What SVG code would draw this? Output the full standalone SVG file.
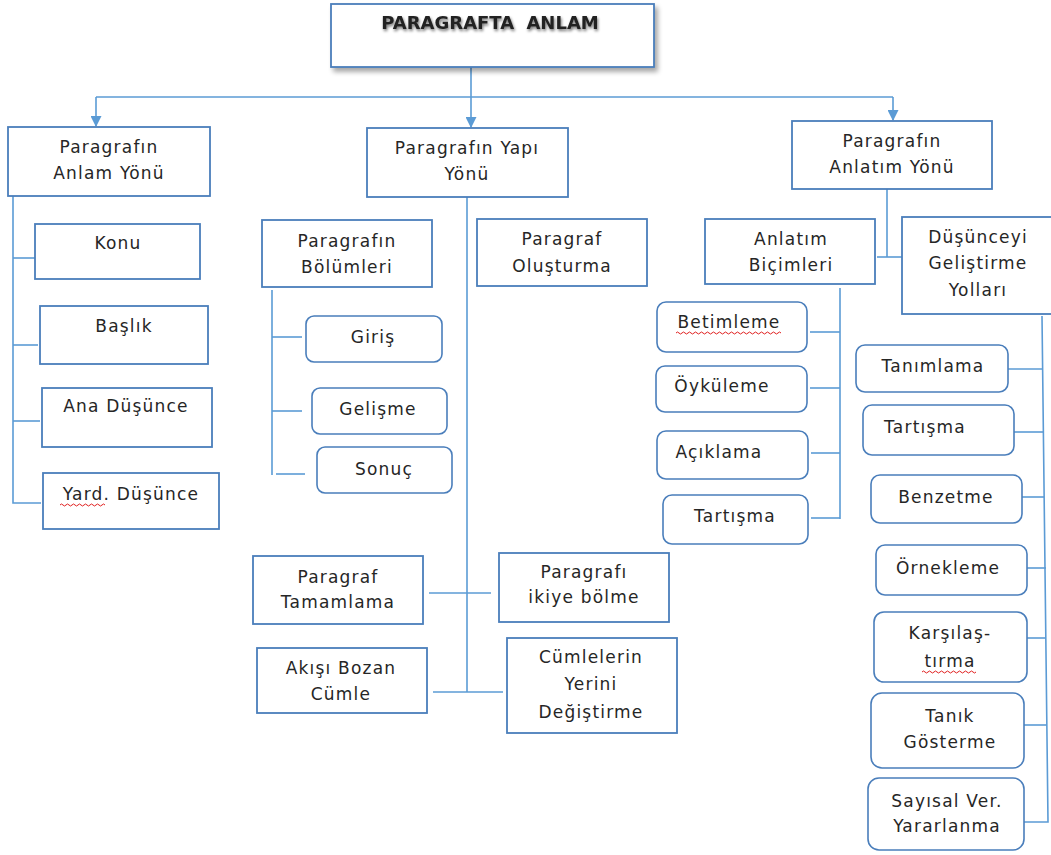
<svg xmlns="http://www.w3.org/2000/svg" width="1051" height="855" viewBox="0 0 1051 855">
  <defs>
    <style>
      .box { fill: #ffffff; stroke: #4a7ebb; stroke-width: 1.8; }
      .rbox { fill: #ffffff; stroke: #4a7ebb; stroke-width: 1.6; }
      .lbl { font-family: "DejaVu Sans", "Liberation Sans", sans-serif; font-size: 17px; letter-spacing: 1.2px; fill: #262626; text-anchor: middle; }
      .ttl { font-family: "DejaVu Sans", "Liberation Sans", sans-serif; font-size: 18px; font-weight: bold; word-spacing: 6px; fill: #222222; text-anchor: middle; }
      .wire { fill: none; stroke: #5b9bd5; stroke-width: 1.6; }
      .squig { fill: none; stroke: #e02020; stroke-width: 1; }
    </style>
    <!-- filled triangle, drawn pointing along the path direction -->
    <marker id="arrow" markerWidth="11" markerHeight="11" refX="10" refY="5.5" orient="auto" markerUnits="userSpaceOnUse" viewBox="0 0 11 11">
      <path d="M0,0 L11,5.5 L0,11 Z" fill="#5b9bd5"/>
    </marker>
    <filter id="boxShadow" x="-10%" y="-20%" width="125%" height="150%">
      <feGaussianBlur in="SourceAlpha" stdDeviation="2.5"/>
      <feOffset dx="3" dy="4" result="b"/>
      <feComponentTransfer><feFuncA type="linear" slope="0.35"/></feComponentTransfer>
      <feMerge><feMergeNode/><feMergeNode in="SourceGraphic"/></feMerge>
    </filter>
    <filter id="textShadow" x="-10%" y="-50%" width="120%" height="200%">
      <feGaussianBlur in="SourceAlpha" stdDeviation="1.8"/>
      <feOffset dx="1" dy="2"/>
      <feComponentTransfer><feFuncA type="linear" slope="0.55"/></feComponentTransfer>
      <feMerge><feMergeNode/><feMergeNode in="SourceGraphic"/></feMerge>
    </filter>
  </defs>

  <rect width="1051" height="855" fill="#ffffff"/>

  <!-- connectors -->
  <g id="connectors" class="wire">
    <!-- root fan-out -->
    <path d="M471,67 V127" marker-end="url(#arrow)"/>
    <path d="M96,97 H893"/>
    <path d="M96,97 V126" marker-end="url(#arrow)"/>
    <path d="M893,97 V120" marker-end="url(#arrow)"/>
    <!-- left column -->
    <path d="M13,196 V503 H41"/>
    <path d="M13,258 H44"/>
    <path d="M13,345 H38"/>
    <path d="M13,421 H40"/>
    <!-- middle column -->
    <path d="M467,197 V692"/>
    <path d="M429,593 H491"/>
    <path d="M433,692 H503"/>
    <path d="M272,290 V475"/>
    <path d="M272,337 H302"/>
    <path d="M272,411 H302"/>
    <path d="M276,474 H305"/>
    <!-- right column -->
    <path d="M887,189 V257"/>
    <path d="M877,257 H906"/>
    <path d="M840,288 V519"/>
    <path d="M810,332 H840"/>
    <path d="M810,388 H840"/>
    <path d="M811,453 H840"/>
    <path d="M811,518 H840"/>
    <path d="M1042,316 L1048,822 H1024"/>
    <path d="M1008,369 H1043"/>
    <path d="M1014,432 H1044"/>
    <path d="M1022,497 H1044"/>
    <path d="M1027,568 H1046"/>
    <path d="M1027,638 H1046"/>
    <path d="M1024,725 H1047"/>
  </g>

  <!-- root -->
  <g id="root">
    <rect class="box" x="331" y="4" width="323" height="63" filter="url(#boxShadow)"/>
    <text class="ttl" x="490" y="29" filter="url(#textShadow)">PARAGRAFTA ANLAM</text>
  </g>

  <!-- left branch -->
  <g id="anlam-yonu">
    <rect class="box" x="8" y="127" width="202" height="69"/>
    <text class="lbl" x="109" y="153">Paragrafın</text>
    <text class="lbl" x="109" y="179">Anlam Yönü</text>
  </g>
  <g id="konu">
    <rect class="box" x="35" y="224" width="165" height="55"/>
    <text class="lbl" x="118" y="249">Konu</text>
  </g>
  <g id="baslik">
    <rect class="box" x="40" y="306" width="168" height="58"/>
    <text class="lbl" x="124" y="332">Başlık</text>
  </g>
  <g id="ana-dusunce">
    <rect class="box" x="42" y="388" width="170" height="59"/>
    <text class="lbl" x="126" y="412">Ana Düşünce</text>
  </g>
  <g id="yard-dusunce">
    <rect class="box" x="43" y="473" width="176" height="56"/>
    <text class="lbl" x="131" y="500">Yard. Düşünce</text>
    <path class="squig" d="M60,505 q1.5,-2 3,0 t3,0 t3,0 t3,0 t3,0 t3,0 t3,0 t3,0 t3,0 t3,0 t3,0 t3,0 t3,0 t3,0 t3,0"/>
  </g>

  <!-- middle branch -->
  <g id="yapi-yonu">
    <rect class="box" x="367" y="128" width="201" height="69"/>
    <text class="lbl" x="467" y="154">Paragrafın Yapı</text>
    <text class="lbl" x="467" y="180">Yönü</text>
  </g>
  <g id="bolumler">
    <rect class="box" x="262" y="220" width="170" height="67"/>
    <text class="lbl" x="347" y="247">Paragrafın</text>
    <text class="lbl" x="347" y="273">Bölümleri</text>
  </g>
  <g id="olusturma">
    <rect class="box" x="477" y="219" width="170" height="67"/>
    <text class="lbl" x="562" y="245">Paragraf</text>
    <text class="lbl" x="562" y="272">Oluşturma</text>
  </g>
  <g id="giris">
    <rect class="rbox" x="306" y="316" width="136" height="46" rx="8"/>
    <text class="lbl" x="373" y="343">Giriş</text>
  </g>
  <g id="gelisme">
    <rect class="rbox" x="312" y="388" width="135" height="46" rx="8"/>
    <text class="lbl" x="378" y="415">Gelişme</text>
  </g>
  <g id="sonuc">
    <rect class="rbox" x="317" y="447" width="135" height="46" rx="8"/>
    <text class="lbl" x="384" y="475">Sonuç</text>
  </g>
  <g id="tamamlama">
    <rect class="box" x="253" y="556" width="170" height="68"/>
    <text class="lbl" x="338" y="583">Paragraf</text>
    <text class="lbl" x="338" y="608">Tamamlama</text>
  </g>
  <g id="ikiye-bolme">
    <rect class="box" x="499" y="553" width="170" height="69"/>
    <text class="lbl" x="584" y="578">Paragrafı</text>
    <text class="lbl" x="584" y="603">ikiye bölme</text>
  </g>
  <g id="akisi-bozan">
    <rect class="box" x="257" y="648" width="170" height="65"/>
    <text class="lbl" x="341" y="674">Akışı Bozan</text>
    <text class="lbl" x="341" y="700">Cümle</text>
  </g>
  <g id="yer-degistirme">
    <rect class="box" x="507" y="638" width="170" height="95"/>
    <text class="lbl" x="591" y="663">Cümlelerin</text>
    <text class="lbl" x="591" y="690">Yerini</text>
    <text class="lbl" x="591" y="718">Değiştirme</text>
  </g>

  <!-- right branch -->
  <g id="anlatim-yonu">
    <rect class="box" x="792" y="121" width="200" height="68"/>
    <text class="lbl" x="892" y="147">Paragrafın</text>
    <text class="lbl" x="892" y="173">Anlatım Yönü</text>
  </g>
  <g id="anlatim-bicimleri">
    <rect class="box" x="705" y="219" width="170" height="65"/>
    <text class="lbl" x="791" y="245">Anlatım</text>
    <text class="lbl" x="791" y="271">Biçimleri</text>
  </g>
  <g id="gelistirme-yollari">
    <rect class="box" x="902" y="217" width="160" height="97"/>
    <text class="lbl" x="978" y="243">Düşünceyi</text>
    <text class="lbl" x="978" y="269">Geliştirme</text>
    <text class="lbl" x="978" y="296">Yolları</text>
  </g>
  <g id="betimleme">
    <rect class="rbox" x="657" y="302" width="150" height="50" rx="9"/>
    <text class="lbl" x="729" y="328">Betimleme</text>
    <path class="squig" d="M676,333 q1.5,-2 3,0 t3,0 t3,0 t3,0 t3,0 t3,0 t3,0 t3,0 t3,0 t3,0 t3,0 t3,0 t3,0 t3,0 t3,0 t3,0 t3,0 t3,0 t3,0 t3,0 t3,0 t3,0 t3,0 t3,0 t3,0 t3,0 t3,0 t3,0 t3,0 t3,0 t3,0 t3,0 t3,0 t3,0 t3,0"/>
  </g>
  <g id="oykuleme">
    <rect class="rbox" x="656" y="366" width="151" height="46" rx="9"/>
    <text class="lbl" x="722" y="392">Öyküleme</text>
  </g>
  <g id="aciklama">
    <rect class="rbox" x="657" y="431" width="151" height="48" rx="9"/>
    <text class="lbl" x="719" y="458">Açıklama</text>
  </g>
  <g id="tartisma-1">
    <rect class="rbox" x="663" y="495" width="145" height="49" rx="9"/>
    <text class="lbl" x="735" y="522">Tartışma</text>
  </g>
  <g id="tanimlama">
    <rect class="rbox" x="856" y="345" width="152" height="47" rx="9"/>
    <text class="lbl" x="933" y="372">Tanımlama</text>
  </g>
  <g id="tartisma-2">
    <rect class="rbox" x="863" y="405" width="151" height="50" rx="9"/>
    <text class="lbl" x="925" y="433">Tartışma</text>
  </g>
  <g id="benzetme">
    <rect class="rbox" x="871" y="475" width="151" height="48" rx="9"/>
    <text class="lbl" x="946" y="503">Benzetme</text>
  </g>
  <g id="ornekleme">
    <rect class="rbox" x="876" y="545" width="151" height="50" rx="9"/>
    <text class="lbl" x="948" y="574">Örnekleme</text>
  </g>
  <g id="karsilastirma">
    <rect class="rbox" x="874" y="612" width="153" height="70" rx="10"/>
    <text class="lbl" x="950" y="639">Karşılaş-</text>
    <text class="lbl" x="950" y="667">tırma</text>
    <path class="squig" d="M922,672 q1.5,-2 3,0 t3,0 t3,0 t3,0 t3,0 t3,0 t3,0 t3,0 t3,0 t3,0 t3,0 t3,0 t3,0 t3,0 t3,0 t3,0 t3,0 t3,0"/>
  </g>
  <g id="tanik-gosterme">
    <rect class="rbox" x="871" y="693" width="153" height="75" rx="11"/>
    <text class="lbl" x="950" y="722">Tanık</text>
    <text class="lbl" x="950" y="748">Gösterme</text>
  </g>
  <g id="sayisal-veriler">
    <rect class="rbox" x="868" y="778" width="156" height="72" rx="11"/>
    <text class="lbl" x="947" y="807">Sayısal Ver.</text>
    <text class="lbl" x="947" y="832">Yararlanma</text>
  </g>
</svg>
